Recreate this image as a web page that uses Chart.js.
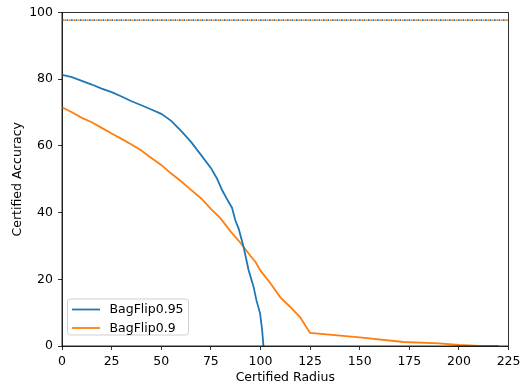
<!DOCTYPE html>
<html>
<head>
<meta charset="utf-8">
<script src="https://cdn.jsdelivr.net/npm/chart.js@4/dist/chart.umd.min.js"></script>
<style>
  html, body { margin: 0; padding: 0; background: #fff; }
  #wrap { width: 525px; height: 389px; }
</style>
</head>
<body>
<div id="wrap"><canvas id="graphs" width="525" height="389"></canvas></div>
<script>
// certified radius (x) and accuracy (%) for each model
const radiusA = [0, 5, 10, 15, 20, 25, 30, 35, 40, 45, 50, 55, 60, 65, 70, 75, 78, 80.7, 83, 85.7, 87.3, 89, 91.5, 94, 96.5, 98, 99.8, 100.8, 101.5];
const accA = [81.3, 80.6, 79.5, 78.4, 77.2, 76.1, 74.8, 73.4, 72.2, 70.9, 69.6, 67.5, 64.5, 61.2, 57.3, 53.4, 50.3, 46.7, 44.2, 41.4, 37.7, 35.2, 29.7, 22.8, 17.8, 13.6, 9.8, 5, 0];

const radiusB = [0, 5, 10, 15, 20, 25, 30, 35, 40, 45, 50, 55, 60, 65, 70, 75, 80, 85, 90, 95, 97.5, 100, 105, 110, 115, 120, 123, 125, 150, 172, 190, 200, 210, 220];
const accB = [71.6, 70.1, 68.4, 67.1, 65.4, 63.7, 62.1, 60.4, 58.6, 56.4, 54.3, 51.7, 49.4, 46.8, 44.3, 41.1, 38.2, 34.3, 30.9, 27.0, 25.2, 22.6, 18.8, 14.6, 11.7, 8.6, 5.8, 3.9, 2.6, 1.2, 0.8, 0.3, 0.05, 0];

// clean (uncertified) accuracy, drawn as dotted reference lines
const cleanRadius = [0, 225];
const cleanAccA = [97.7, 97.7];
const cleanAccB = [97.7, 97.7];

const seriesNames = ['BagFlip0.95', 'BagFlip0.9'];
const xTicks = [0, 25, 50, 75, 100, 125, 150, 175, 200, 225];
const yTicks = [0, 20, 40, 60, 80, 100];

const BLUE = '#1f77b4';
const ORANGE = '#ff7f0e';
const FONT = { family: 'DejaVu Sans', size: 12.5 };

function pts(xs, ys) {
    return xs.map((x, i) => ({ x: x, y: ys[i] }));
}

// box around the plot area plus the legend in the lower-left corner
const framePlugin = {
    id: 'frame',
    afterDatasetsDraw(chart) {
        const { ctx, chartArea: a } = chart;
        ctx.save();
        ctx.strokeStyle = '#000';
        ctx.lineWidth = 0.8;
        ctx.strokeRect(a.left, a.top, a.right - a.left, a.bottom - a.top);

        // legend
        const bx = a.left + 5.5, by = a.bottom - 47, bw = 121, bh = 36, r = 3;
        ctx.beginPath();
        ctx.moveTo(bx + r, by);
        ctx.arcTo(bx + bw, by, bx + bw, by + bh, r);
        ctx.arcTo(bx + bw, by + bh, bx, by + bh, r);
        ctx.arcTo(bx, by + bh, bx, by, r);
        ctx.arcTo(bx, by, bx + bw, by, r);
        ctx.closePath();
        ctx.fillStyle = 'rgba(255,255,255,0.8)';
        ctx.fill();
        ctx.strokeStyle = '#d0d0d0';
        ctx.lineWidth = 1;
        ctx.stroke();

        const colors = [BLUE, ORANGE];
        ctx.font = FONT.size + 'px "' + FONT.family + '"';
        ctx.textBaseline = 'middle';
        seriesNames.forEach((name, i) => {
            const y = by + 10.5 + i * 18.5;
            ctx.strokeStyle = colors[i];
            ctx.lineWidth = 1.8;
            ctx.beginPath();
            ctx.moveTo(bx + 4.5, y);
            ctx.lineTo(bx + 32.5, y);
            ctx.stroke();
            ctx.fillStyle = '#000';
            ctx.fillText(name, bx + 42, y + 0.5);
        });
        ctx.restore();
    }
};

const ctx = document.getElementById('graphs').getContext('2d');

new Chart(ctx, {
    type: 'line',
    data: {
        datasets: [{
            data: pts(cleanRadius, cleanAccA),
            borderColor: BLUE,
            borderWidth: 1.8,
            borderDash: [1.7, 2.8],
        }, {
            data: pts(cleanRadius, cleanAccB),
            borderColor: ORANGE,
            borderWidth: 1.8,
            borderDash: [1.7, 2.8],
            borderDashOffset: 2.2,
        }, {
            label: seriesNames[0],
            data: pts(radiusA, accA),
            borderColor: BLUE,
            borderWidth: 1.8,
        }, {
            label: seriesNames[1],
            data: pts(radiusB, accB),
            borderColor: ORANGE,
            borderWidth: 1.8,
        }],
    },
    options: {
        responsive: false,
        animation: false,
        events: [],
        elements: {
            point: { radius: 0 },
            line: { tension: 0, fill: false, borderCapStyle: 'butt' },
        },
        layout: {
            padding: { top: 12, right: 13, left: 0, bottom: 0 }
        },
        plugins: {
            legend: { display: false },
            tooltip: { enabled: false },
        },
        scales: {
            x: {
                type: 'linear',
                min: 0,
                max: 225,
                afterFit(scale) { scale.height = 43; },
                afterBuildTicks(scale) { scale.ticks = xTicks.map(v => ({ value: v })); },
                grid: {
                    drawOnChartArea: false,
                    tickLength: 4,
                    color: '#000',
                    lineWidth: 0.8,
                },
                border: { color: '#000', width: 0.8 },
                ticks: {
                    color: '#000',
                    font: FONT,
                    padding: 4.5,
                    maxRotation: 0,
                    autoSkip: false,
                },
                title: {
                    display: true,
                    text: 'Certified Radius',
                    color: '#000',
                    font: FONT,
                    padding: { top: 0, bottom: 3.5 },
                },
            },
            y: {
                min: 0,
                max: 100,
                afterFit(scale) { scale.width = 62; },
                afterBuildTicks(scale) { scale.ticks = yTicks.map(v => ({ value: v })); },
                grid: {
                    drawOnChartArea: false,
                    tickLength: 4,
                    color: '#000',
                    lineWidth: 0.8,
                },
                border: { color: '#000', width: 0.8 },
                ticks: {
                    color: '#000',
                    font: FONT,
                    padding: 5,
                },
                title: {
                    display: true,
                    text: 'Certified Accuracy',
                    color: '#000',
                    font: FONT,
                    padding: { top: 10.5, bottom: 0 },
                },
            },
        },
    },
    plugins: [framePlugin],
});
</script>
</body>
</html>
